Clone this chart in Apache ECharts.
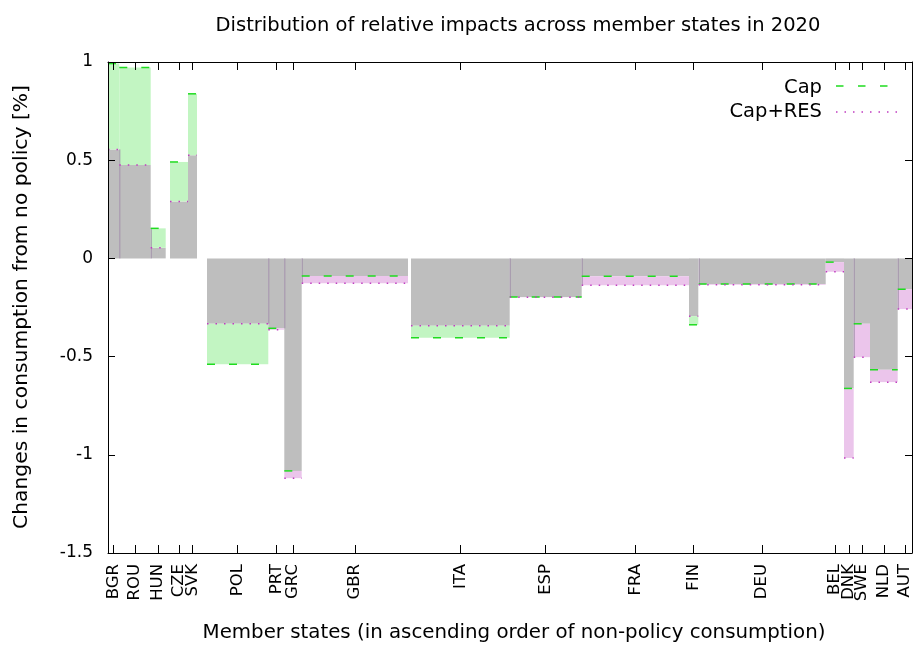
<!DOCTYPE html>
<html>
<head>
<meta charset="utf-8">
<title>Distribution of relative impacts across member states in 2020</title>
<script src="https://cdn.jsdelivr.net/npm/echarts@6/dist/echarts.min.js"></script>
<style>
    html, body { margin: 0; padding: 0; background: #fff; }
    #chart { width: 915px; height: 648px; }
</style>
</head>
<body>
<div id="chart"></div>
<script>
// member states, ordered by non-policy consumption
const countries = ['BGR', 'ROU', 'HUN', 'CZE', 'SVK', 'POL', 'PRT', 'GRC', 'GBR', 'ITA',
    'ESP', 'FRA', 'FIN', 'DEU', 'BEL', 'DNK', 'SWE', 'NLD', 'AUT'];
// horizontal extent of every box (cumulative consumption, arbitrary units)
const xFrom = [0, 11.3, 42.7, 62, 80, 99, 160.3, 176.3, 193.7, 303,
    401.7, 473.7, 581, 590.7, 717.7, 736, 745.7, 762, 789.7];
const xTo = [11.3, 42.7, 57.7, 80, 89, 160.3, 176.3, 193.7, 300, 401.7,
    473.7, 581, 590.3, 717.7, 736, 745.7, 762, 789.7, 804];
// relative change in consumption [%]
const capValues = [0.992, 0.972, 0.153, 0.491, 0.838, -0.539, -0.356, -1.082, -0.090, -0.404,
    -0.197, -0.091, -0.338, -0.130, -0.019, -0.662, -0.333, -0.567, -0.157];
const capResValues = [0.555, 0.476, 0.054, 0.290, 0.525, -0.333, -0.363, -1.119, -0.127, -0.343,
    -0.198, -0.137, -0.294, -0.134, -0.068, -1.016, -0.503, -0.630, -0.258];
// boxes whose left edge shows a thin seam against the previous box
const seamLeft = [false, true, true, false, false, false, true, true, true, false,
    true, true, false, true, false, false, true, false, true];
const yTicks = [-1.5, -1, -0.5, 0, 0.5, 1];

const FONT = 'DejaVu Sans';
const GRAY = '#bebebe';
const GREEN_FILL = '#c2f5c2';
const PINK_FILL = '#ebc5eb';
const CAP_LINE = '#1fdc1f';
const RES_LINE = '#c03cc0';

const centers = xFrom.map((v, i) => (v + xTo[i]) / 2);
const boxData = countries.map((c, i) => [xFrom[i], xTo[i], capValues[i], capResValues[i]]);

function nameAt(v) {
    let best = 0;
    centers.forEach((c, i) => {
        if (Math.abs(c - v) < Math.abs(centers[best] - v)) best = i;
    });
    return countries[best];
}

function renderBox(params, api) {
    const i = params.dataIndex;
    const x0 = api.value(0);
    const x1 = api.value(1);
    const cap = api.value(2);
    const res = api.value(3);
    const capOuter = Math.abs(cap) >= Math.abs(res);
    const inner = capOuter ? res : cap;
    const outer = capOuter ? cap : res;

    const pZero = api.coord([x0, 0]);
    const pInner = api.coord([x1, inner]);
    const pOuter = api.coord([x1, outer]);
    const left = pZero[0];
    const w = pInner[0] - left;
    const children = [];

    children.push({
        type: 'rect',
        shape: { x: left, y: Math.min(pZero[1], pInner[1]), width: w, height: Math.abs(pInner[1] - pZero[1]) },
        style: { fill: GRAY }
    });
    children.push({
        type: 'rect',
        shape: { x: left, y: Math.min(pInner[1], pOuter[1]), width: w, height: Math.abs(pOuter[1] - pInner[1]) },
        style: { fill: capOuter ? GREEN_FILL : PINK_FILL }
    });

    if (seamLeft[i] && i > 0) {
        const prevInner = Math.min(Math.abs(capValues[i - 1]), Math.abs(capResValues[i - 1]));
        const thisOuter = Math.abs(outer);
        const h = Math.min(prevInner, thisOuter) * Math.sign(outer);
        const pTop = api.coord([x0, h]);
        children.push({
            type: 'line',
            shape: { x1: left + 0.5, y1: pZero[1], x2: left + 0.5, y2: pTop[1] },
            style: { stroke: '#a08ea8', lineWidth: 1 }
        });
    }

    const pCapA = api.coord([x0, cap]);
    const pCapB = api.coord([x1, cap]);
    children.push({
        type: 'line',
        shape: { x1: pCapA[0], y1: pCapA[1], x2: pCapB[0], y2: pCapB[1] },
        style: { stroke: CAP_LINE, lineWidth: 1.5, lineDash: [8, 14] }
    });
    const pResA = api.coord([x0, res]);
    const pResB = api.coord([x1, res]);
    children.push({
        type: 'line',
        shape: { x1: pResA[0], y1: pResA[1], x2: pResB[0], y2: pResB[1] },
        style: { stroke: RES_LINE, lineWidth: 1.5, lineDash: [1.5, 7] }
    });

    return { type: 'group', children: children };
}

const chart = echarts.init(document.getElementById('chart'));

const axisLineStyle = { color: '#000', width: 1 };

const option = {
    backgroundColor: '#fff',
    animation: false,
    textStyle: { fontFamily: FONT },
    title: {
        text: 'Distribution of relative impacts across member states in 2020',
        left: 513,
        top: 11,
        textAlign: 'center',
        textStyle: { fontFamily: FONT, fontSize: 19.5, fontWeight: 'normal', color: '#000' }
    },
    grid: {
        left: 108,
        top: 62,
        width: 804,
        height: 491,
        show: false
    },
    xAxis: [
        {
            type: 'value',
            position: 'bottom',
            min: 0,
            max: 804,
            z: 10,
            axisLine: { show: true, onZero: false, lineStyle: axisLineStyle },
            axisTick: { show: true, inside: true, length: 8, customValues: centers, lineStyle: axisLineStyle },
            axisLabel: {
                customValues: centers,
                rotate: 90,
                margin: 11,
                fontFamily: FONT,
                fontSize: 16.5,
                color: '#000',
                formatter: (v) => nameAt(v)
            },
            splitLine: { show: false }
        },
        {
            type: 'value',
            position: 'top',
            min: 0,
            max: 804,
            z: 10,
            axisLine: { show: true, onZero: false, lineStyle: axisLineStyle },
            axisTick: { show: true, inside: true, length: 8, customValues: centers, lineStyle: axisLineStyle },
            axisLabel: { show: false },
            splitLine: { show: false }
        }
    ],
    yAxis: [
        {
            type: 'value',
            position: 'left',
            min: -1.5,
            max: 1,
            interval: 0.5,
            z: 10,
            axisLine: { show: true, onZero: false, lineStyle: axisLineStyle },
            axisTick: { show: true, inside: true, length: 7, customValues: yTicks, lineStyle: axisLineStyle },
            axisLabel: { customValues: yTicks, margin: 15, fontFamily: FONT, fontSize: 17, color: '#000' },
            splitLine: { show: false }
        },
        {
            type: 'value',
            position: 'right',
            min: -1.5,
            max: 1,
            interval: 0.5,
            z: 10,
            axisLine: { show: true, onZero: false, lineStyle: axisLineStyle },
            axisTick: { show: true, inside: true, length: 7, customValues: yTicks, lineStyle: axisLineStyle },
            axisLabel: { show: false },
            splitLine: { show: false }
        }
    ],
    graphic: [
        {
            type: 'text',
            x: 22,
            y: 307,
            rotation: Math.PI / 2,
            style: {
                text: 'Changes in consumption from no policy [%]',
                font: '20.3px "DejaVu Sans"',
                fill: '#000',
                textAlign: 'center',
                textVerticalAlign: 'middle'
            }
        },
        {
            type: 'text',
            x: 514,
            y: 633,
            style: {
                text: 'Member states (in ascending order of non-policy consumption)',
                font: '19.8px "DejaVu Sans"',
                fill: '#000',
                textAlign: 'center',
                textVerticalAlign: 'middle'
            }
        },
        // key, gnuplot style: label on the left, sample on the right
        {
            type: 'text',
            x: 822,
            y: 88,
            style: { text: 'Cap', font: '19.5px "DejaVu Sans"', fill: '#000', textAlign: 'right', textVerticalAlign: 'middle' }
        },
        {
            type: 'line',
            shape: { x1: 836, y1: 86, x2: 892, y2: 86 },
            style: { stroke: CAP_LINE, lineWidth: 1.5, lineDash: [7.5, 14.5] }
        },
        {
            type: 'text',
            x: 822,
            y: 112,
            style: { text: 'Cap+RES', font: '19.5px "DejaVu Sans"', fill: '#000', textAlign: 'right', textVerticalAlign: 'middle' }
        },
        {
            type: 'line',
            shape: { x1: 836, y1: 112, x2: 898, y2: 112 },
            style: { stroke: RES_LINE, lineWidth: 1.5, lineDash: [1.5, 7] }
        }
    ],
    series: [
        {
            name: 'impacts',
            type: 'custom',
            xAxisIndex: 0,
            yAxisIndex: 0,
            renderItem: renderBox,
            encode: { x: [0, 1], y: [2, 3] },
            data: boxData
        }
    ]
};

chart.setOption(option);
</script>
</body>
</html>
